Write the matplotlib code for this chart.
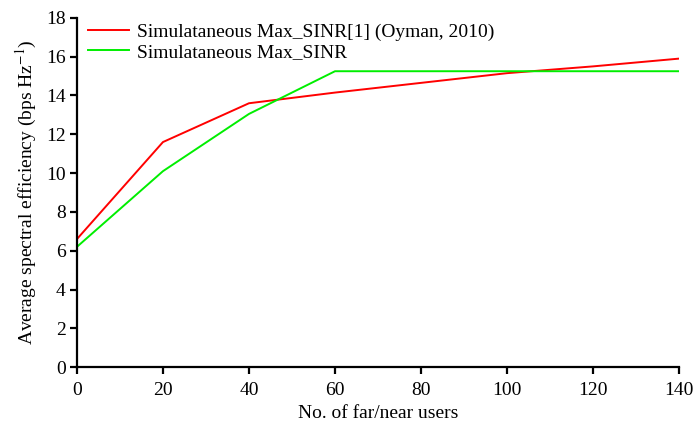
import matplotlib
matplotlib.use("Agg")
import matplotlib.pyplot as plt

# data
users = [0, 20, 40, 60, 80, 100, 120, 140]
oyman = [6.6, 11.6, 13.6, 14.15, 14.65, 15.15, 15.5, 15.9]
max_sinr = [6.2, 10.1, 13.05, 15.25, 15.25, 15.25, 15.25, 15.25]

plt.rcParams.update({
    "font.family": "Liberation Serif",
    "font.size": 14,
    "mathtext.fontset": "stix",
})

fig = plt.figure(figsize=(6.93, 4.25), dpi=100)
ax = fig.add_axes([0.111, 0.136, 0.869, 0.822])

ax.plot(users, oyman, color="#ff0000", lw=1.4, label="Simulataneous Max_SINR[1] (Oyman, 2010)")
ax.plot(users, max_sinr, color="#00ee00", lw=1.4, label="Simulataneous Max_SINR")

ax.set_xlim(0, 140)
ax.set_ylim(0, 18)
ax.set_xticks(range(0, 141, 20))
ax.set_yticks(range(0, 19, 2))
ax.spines["top"].set_visible(False)
ax.spines["right"].set_visible(False)
ax.spines["left"].set_linewidth(1.6)
ax.spines["bottom"].set_linewidth(1.6)
ax.tick_params(direction="out", width=1.6, length=5, labelsize=14)
ax.tick_params(axis="x", pad=6)
ax.tick_params(axis="y", pad=3)

ax.set_xlabel("No. of far/near users", fontsize=14, labelpad=4)
ax.set_ylabel("Average spectral efficiency (bps Hz$^{-1}$)", fontsize=14, labelpad=5)

ax.legend(loc="upper left", frameon=False, fontsize=14, handlelength=2.1,
          borderaxespad=0.0, handletextpad=0.4, labelspacing=0.15,
          borderpad=0.0, bbox_to_anchor=(0.019, 0.985))

fig.savefig("out.png", dpi=100)
